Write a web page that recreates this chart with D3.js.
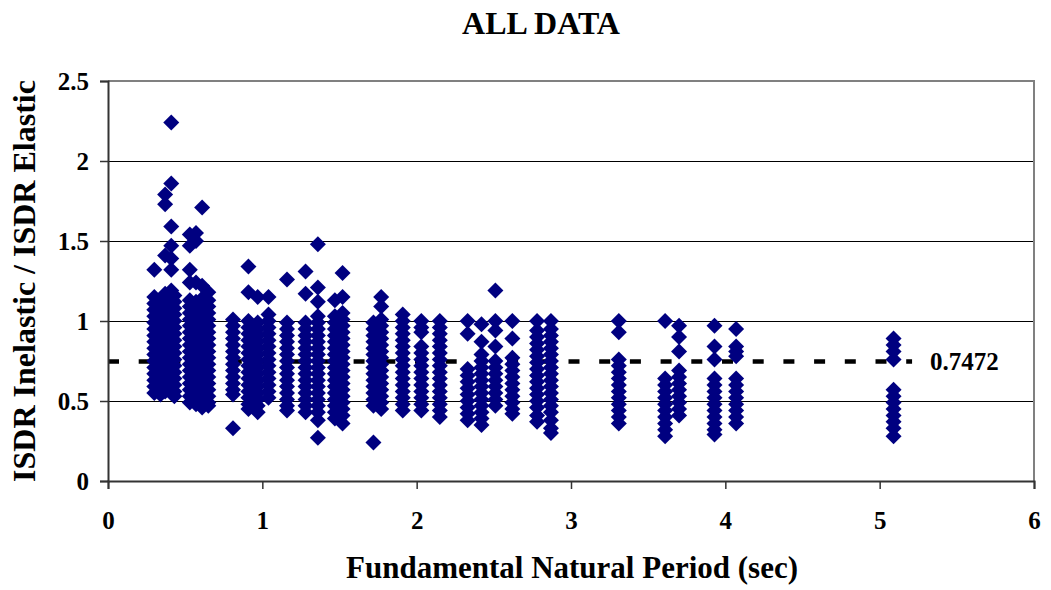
<!DOCTYPE html>
<html><head><meta charset="utf-8">
<script src="https://cdn.jsdelivr.net/npm/d3@7"></script>
<style>
body{margin:0;background:#fff}
svg text{font-family:"Liberation Serif","Times New Roman",serif;font-weight:bold;fill:#000}
</style>
</head><body>
<svg id="chart" width="1051" height="590"></svg>
<script>
// ---- data ----
const chartTitle = "ALL DATA";
const xTitle = "Fundamental Natural Period (sec)";
const yTitle = "ISDR Inelastic / ISDR Elastic";
const xTicks = [0, 1, 2, 3, 4, 5, 6];
const yTicks = [0, 0.5, 1, 1.5, 2, 2.5];
const meanValue = 0.7472;
const meanExtent = [0, 5.21];

const periods = [0.30, 0.34, 0.37, 0.41, 0.43, 0.53, 0.57, 0.61, 0.65,
  0.81, 0.91, 0.97, 1.04, 1.16, 1.28, 1.36, 1.47, 1.52, 1.72, 1.77,
  1.91, 2.03, 2.15, 2.33, 2.42, 2.51, 2.62, 2.78, 2.87,
  3.31, 3.61, 3.70, 3.93, 4.07, 5.09];

const ratios = [
  [1.32, 1.15, 1.11, 1.07, 1.03, 0.99, 0.95, 0.91, 0.87, 0.83, 0.79, 0.75, 0.71, 0.67, 0.63, 0.59, 0.55],
  [1.13, 1.09, 1.05, 1.01, 0.97, 0.93, 0.89, 0.85, 0.81, 0.77, 0.73, 0.69, 0.65, 0.61, 0.57, 0.54],
  [1.79, 1.73, 1.41, 1.17, 1.12, 1.08, 1.04, 1.00, 0.96, 0.92, 0.88, 0.84, 0.80, 0.76, 0.72, 0.68, 0.64, 0.60, 0.56],
  [2.24, 1.86, 1.59, 1.47, 1.39, 1.32, 1.19, 1.15, 1.11, 1.07, 1.03, 0.99, 0.95, 0.91, 0.87, 0.83, 0.79, 0.75, 0.71, 0.67, 0.63, 0.59, 0.55],
  [1.16, 1.12, 1.08, 1.04, 1.00, 0.96, 0.92, 0.88, 0.84, 0.80, 0.76, 0.72, 0.68, 0.64, 0.60, 0.56, 0.53],
  [1.54, 1.47, 1.32, 1.24, 1.13, 1.09, 1.05, 1.01, 0.97, 0.93, 0.89, 0.85, 0.81, 0.77, 0.73, 0.69, 0.65, 0.61, 0.57, 0.53, 0.49],
  [1.55, 1.50, 1.24, 1.12, 1.08, 1.04, 1.00, 0.96, 0.92, 0.88, 0.84, 0.80, 0.76, 0.72, 0.68, 0.64, 0.60, 0.56, 0.52, 0.48],
  [1.71, 1.22, 1.14, 1.10, 1.06, 1.02, 0.98, 0.94, 0.90, 0.86, 0.82, 0.78, 0.74, 0.70, 0.66, 0.62, 0.58, 0.54, 0.50, 0.46],
  [1.18, 1.13, 1.09, 1.05, 1.01, 0.97, 0.93, 0.89, 0.85, 0.81, 0.77, 0.73, 0.69, 0.65, 0.61, 0.57, 0.53, 0.49, 0.47],
  [1.01, 0.97, 0.93, 0.89, 0.85, 0.81, 0.77, 0.73, 0.69, 0.65, 0.61, 0.57, 0.54, 0.33],
  [1.34, 1.18, 1.00, 0.96, 0.92, 0.88, 0.84, 0.80, 0.76, 0.72, 0.68, 0.64, 0.60, 0.56, 0.52, 0.48, 0.45],
  [1.15, 0.99, 0.95, 0.91, 0.87, 0.83, 0.79, 0.75, 0.71, 0.67, 0.63, 0.59, 0.55, 0.51, 0.47, 0.43],
  [1.15, 1.04, 1.00, 0.96, 0.92, 0.88, 0.84, 0.80, 0.76, 0.72, 0.68, 0.64, 0.60, 0.56, 0.52],
  [1.26, 0.99, 0.95, 0.91, 0.87, 0.83, 0.79, 0.75, 0.71, 0.67, 0.63, 0.59, 0.55, 0.51, 0.47, 0.44],
  [1.31, 1.17, 0.99, 0.95, 0.91, 0.87, 0.83, 0.79, 0.75, 0.71, 0.67, 0.63, 0.59, 0.55, 0.51, 0.47, 0.43],
  [1.48, 1.21, 1.12, 1.03, 0.99, 0.95, 0.91, 0.87, 0.83, 0.79, 0.75, 0.71, 0.67, 0.63, 0.59, 0.55, 0.51, 0.47, 0.43, 0.38, 0.27],
  [1.13, 1.03, 0.99, 0.95, 0.91, 0.87, 0.83, 0.79, 0.75, 0.71, 0.67, 0.63, 0.59, 0.55, 0.51, 0.47, 0.43, 0.39],
  [1.30, 1.15, 1.05, 1.01, 0.97, 0.93, 0.89, 0.85, 0.81, 0.77, 0.73, 0.69, 0.65, 0.61, 0.57, 0.53, 0.49, 0.45, 0.41, 0.36],
  [0.99, 0.95, 0.91, 0.87, 0.83, 0.79, 0.75, 0.71, 0.67, 0.63, 0.59, 0.55, 0.51, 0.47, 0.24],
  [1.15, 1.09, 1.01, 0.97, 0.93, 0.89, 0.85, 0.81, 0.77, 0.73, 0.69, 0.65, 0.61, 0.57, 0.53, 0.49, 0.45],
  [1.04, 1.00, 0.96, 0.92, 0.88, 0.84, 0.80, 0.76, 0.72, 0.68, 0.64, 0.60, 0.56, 0.52, 0.48, 0.44],
  [1.00, 0.96, 0.93, 0.84, 0.80, 0.76, 0.72, 0.68, 0.64, 0.60, 0.56, 0.52, 0.48, 0.44],
  [1.00, 0.96, 0.92, 0.88, 0.84, 0.80, 0.76, 0.72, 0.68, 0.64, 0.60, 0.56, 0.52, 0.48, 0.44, 0.40],
  [1.00, 0.92, 0.70, 0.66, 0.62, 0.58, 0.54, 0.50, 0.46, 0.42, 0.38],
  [0.98, 0.87, 0.79, 0.75, 0.71, 0.67, 0.63, 0.59, 0.55, 0.51, 0.47, 0.43, 0.39, 0.35],
  [1.19, 1.00, 0.94, 0.84, 0.75, 0.71, 0.67, 0.63, 0.59, 0.55, 0.51, 0.47],
  [1.00, 0.89, 0.77, 0.73, 0.69, 0.65, 0.61, 0.57, 0.53, 0.49, 0.45, 0.42],
  [1.00, 0.94, 0.90, 0.86, 0.82, 0.78, 0.74, 0.70, 0.66, 0.62, 0.58, 0.54, 0.50, 0.46, 0.41, 0.37],
  [1.00, 0.95, 0.91, 0.87, 0.83, 0.79, 0.75, 0.71, 0.67, 0.63, 0.59, 0.55, 0.51, 0.47, 0.43, 0.38, 0.33, 0.30],
  [1.00, 0.93, 0.76, 0.72, 0.68, 0.64, 0.60, 0.56, 0.52, 0.48, 0.44, 0.40, 0.36],
  [1.00, 0.64, 0.60, 0.56, 0.52, 0.48, 0.44, 0.40, 0.36, 0.32, 0.28],
  [0.97, 0.90, 0.81, 0.69, 0.65, 0.61, 0.57, 0.53, 0.49, 0.45, 0.41],
  [0.97, 0.84, 0.76, 0.64, 0.60, 0.56, 0.52, 0.48, 0.44, 0.40, 0.36, 0.32, 0.29],
  [0.95, 0.84, 0.81, 0.78, 0.64, 0.60, 0.56, 0.52, 0.48, 0.44, 0.40, 0.36],
  [0.89, 0.85, 0.81, 0.76, 0.57, 0.53, 0.49, 0.45, 0.41, 0.37, 0.33, 0.28]
];

// ---- drawing ----
const svg = d3.select("#chart");
const margin = {left: 108, right: 17, top: 81, bottom: 109};
const W = 1051, H = 590;
const x = d3.scaleLinear().domain([0, 6]).range([margin.left, W - margin.right]);
const y = d3.scaleLinear().domain([0, 2.5]).range([H - margin.bottom, margin.top]);

const points = [];
periods.forEach((p, i) => ratios[i].forEach(r => points.push({p, r})));

// gridlines
svg.append("g").selectAll("line").data(yTicks.filter(t => t > 0 && t < 2.5)).join("line")
  .attr("x1", x(0)).attr("x2", x(6))
  .attr("y1", d => y(d)).attr("y2", d => y(d))
  .attr("stroke", "#000").attr("stroke-width", 1).attr("shape-rendering", "crispEdges");

// plot border (top & right)
svg.append("path")
  .attr("d", `M${x(0)},${y(2.5)}H${x(6)}V${y(0)}`)
  .attr("fill", "none").attr("stroke", "#808080").attr("stroke-width", 2);

// mean line (under points)
const meanLine = d3.line().x(d => x(d)).y(() => y(meanValue));
svg.append("path").datum(meanExtent)
  .attr("d", meanLine)
  .attr("stroke", "#000").attr("stroke-width", 4.5)
  .attr("stroke-dasharray", "11,19.7").attr("fill", "none");

// points
const diamond = d3.symbol().type(d3.symbolSquare).size(128);
svg.append("g").selectAll("path").data(points).join("path")
  .attr("d", diamond)
  .attr("transform", d => `translate(${x(d.p)},${y(d.r)}) rotate(45)`)
  .attr("fill", "#000080");

// mean label
svg.append("text")
  .attr("x", x(meanExtent[1]) + 18).attr("y", y(meanValue) + 9)
  .attr("font-size", 25).text(meanValue.toFixed(4));

// axes
const yAxis = d3.axisLeft(y).tickValues(yTicks).tickSize(8).tickPadding(11).tickFormat(d => d);
const gy = svg.append("g").attr("transform", `translate(${x(0)},0)`).call(yAxis);
gy.select(".domain").attr("stroke", "#333").attr("stroke-width", 2);
gy.selectAll(".tick line").attr("stroke", "#333").attr("stroke-width", 1.5);
gy.selectAll("text").attr("font-size", 25).attr("font-family", "Liberation Serif").attr("font-weight", "bold").attr("fill", "#000");

const xAxis = d3.axisBottom(x).tickValues(xTicks).tickSize(8).tickFormat(d => d);
const gx = svg.append("g").attr("transform", `translate(0,${y(0)})`).call(xAxis);
gx.select(".domain").attr("stroke", "#333").attr("stroke-width", 2);
gx.selectAll(".tick line").attr("stroke", "#333").attr("stroke-width", 1.5);
gx.selectAll("text").attr("font-size", 25).attr("font-family", "Liberation Serif").attr("font-weight", "bold").attr("fill", "#000")
  .attr("y", 48).attr("dy", 0);

// titles
svg.append("text").attr("x", 541).attr("y", 34).attr("text-anchor", "middle")
  .attr("font-size", 32).text(chartTitle);
svg.append("text").attr("x", 572).attr("y", 578).attr("text-anchor", "middle")
  .attr("font-size", 31).text(xTitle);
svg.append("text").attr("transform", `translate(35,281) rotate(-90)`).attr("text-anchor", "middle")
  .attr("font-size", 32).text(yTitle);
</script>
</body></html>
